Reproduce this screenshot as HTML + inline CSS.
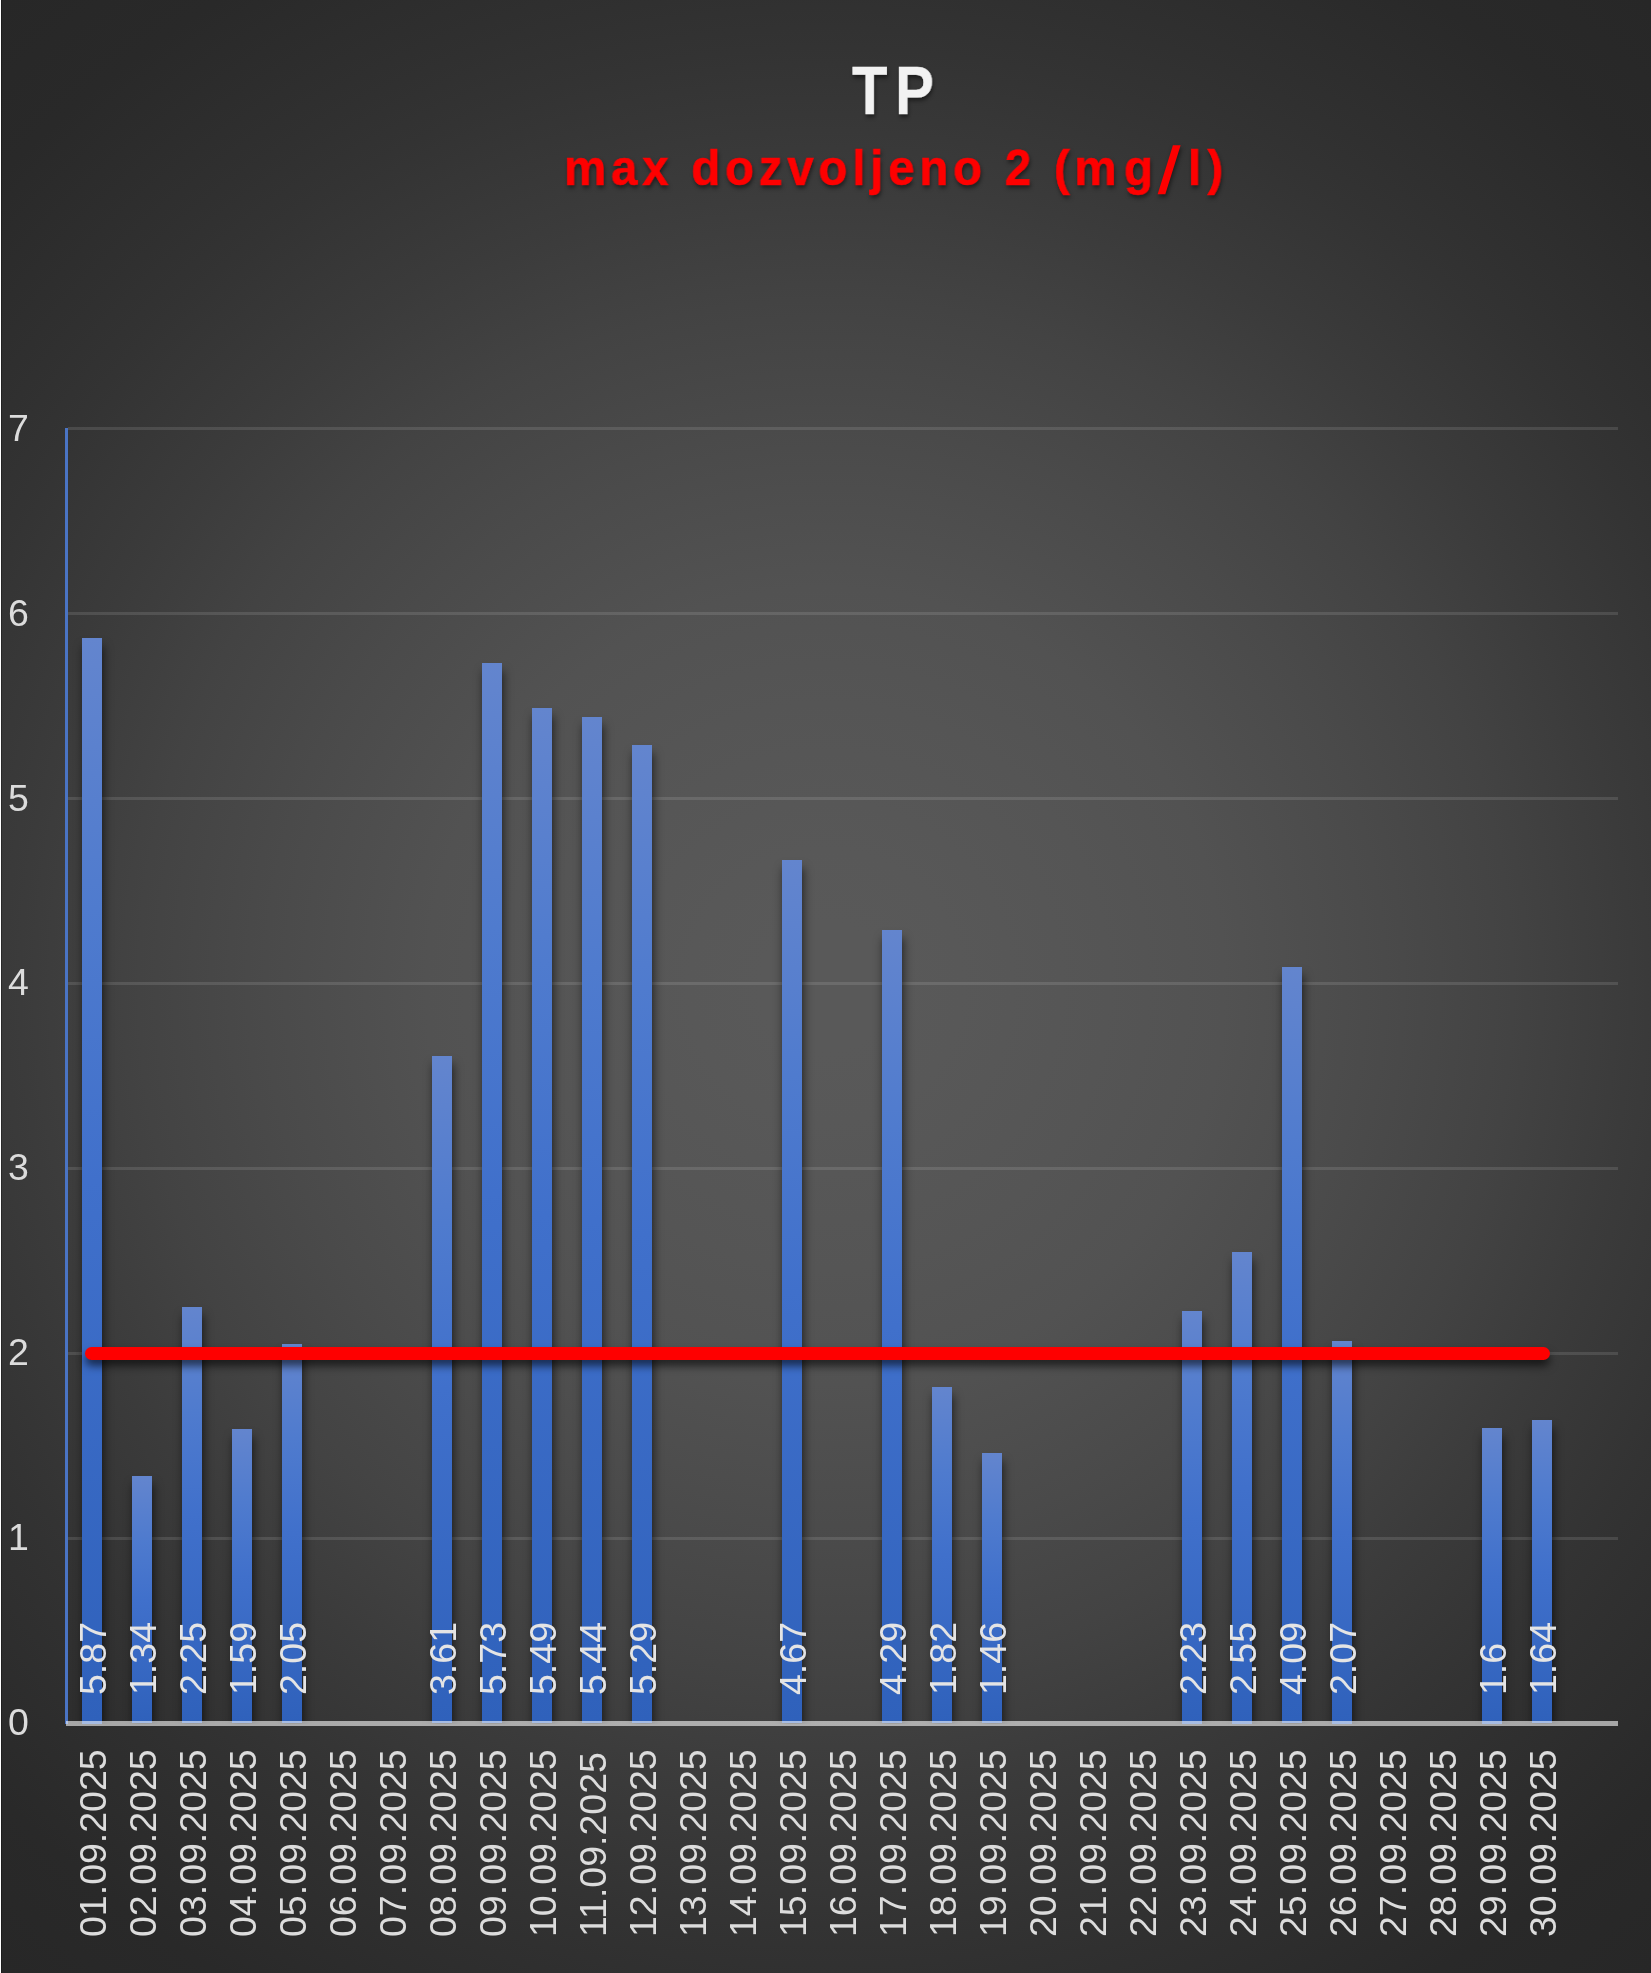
<!DOCTYPE html>
<html lang="hr"><head><meta charset="utf-8"><title>TP</title>
<style>
html,body{margin:0;padding:0;background:#262626}
body{width:1651px;height:1973px;overflow:hidden;position:relative;
 font-family:"Liberation Sans",sans-serif}
#bg{position:absolute;left:0;top:0;width:1651px;height:1973px;
 background:#262626 radial-gradient(circle farthest-corner at 825.5px 986.5px,#595959 0%,#595959 5%,#585858 10.6%,#555555 22%,#525252 31%,#4a4a4a 43.5%,#434343 53.4%,#3b3b3b 62.6%,#333333 73%,#303030 77.7%,#292929 90%,#272727 100%);}
.edge{position:absolute;left:0;top:0;width:1px;height:1973px;background:#fff}
.edge2{position:absolute;left:1px;top:0;width:1px;height:1973px;background:rgba(0,0,0,.28)}
.g{position:absolute;left:68px;width:1549.5px;height:3px;background:rgba(255,255,255,.115)}
.b{position:absolute;width:20px;background:linear-gradient(to bottom,#6385ce 0%,#4f7bce 25%,#4070cb 50%,#2f61bb 100%);
 box-shadow:1.5px 8px 10px rgba(0,0,0,.6)}
.bars{position:absolute;left:0;top:0;width:1651px;height:1723.5px;overflow:hidden}
.vax{position:absolute;left:65px;top:427.5px;width:3px;height:1296px;background:#4a74c4}
.hax{position:absolute;left:66px;top:1721px;width:1551.5px;height:5px;background:rgba(255,255,255,.58)}
.red{position:absolute;left:85px;top:1346.6px;width:1464.5px;height:13.6px;border-radius:7px;background:#fe0000;
 box-shadow:0 6px 9px rgba(0,0,0,.6)}
.t{position:absolute;white-space:nowrap;line-height:1;font-size:37.5px;color:#dcdcdc}
.t,.title{will-change:transform}
.r{transform-origin:0 0;transform:rotate(-90deg)}
.dl{color:#e4e4e4}
.title{position:absolute;white-space:nowrap;line-height:1;font-weight:bold;transform-origin:0 0}
#t1{left:852.4px;top:56px;font-size:68px;color:#f2f2f2;letter-spacing:9px;transform:scaleX(.855);-webkit-text-stroke:.4px #f2f2f2;
 text-shadow:1px 3px 4px rgba(0,0,0,.5)}
.sl{display:inline-block;width:31.8px}
.sp2{display:inline-block;width:2.6px}
.sp{display:inline-block;width:1.5px}
.slash{position:absolute;left:1150px;top:135px;filter:drop-shadow(1px 3px 2px rgba(0,0,0,.5))}
#t2{left:563.5px;top:143px;font-size:50px;color:#fe0000;letter-spacing:5px;transform:scaleX(.95);-webkit-text-stroke:.6px #fe0000;
 text-shadow:1px 3px 4px rgba(0,0,0,.5)}

</style></head><body>
<div id="bg"></div>
<div class="edge"></div><div class="edge2"></div>
<div class="g" style="top:427.0px"></div>
<div class="g" style="top:612.0px"></div>
<div class="g" style="top:797.0px"></div>
<div class="g" style="top:982.0px"></div>
<div class="g" style="top:1167.0px"></div>
<div class="g" style="top:1352.0px"></div>
<div class="g" style="top:1537.0px"></div>
<div class="bars">
<div class="b" style="left:82.0px;top:637.5px;height:1086.0px"></div>
<div class="b" style="left:132.0px;top:1475.6px;height:247.9px"></div>
<div class="b" style="left:182.0px;top:1307.2px;height:416.2px"></div>
<div class="b" style="left:232.0px;top:1429.3px;height:294.2px"></div>
<div class="b" style="left:282.0px;top:1344.2px;height:379.2px"></div>
<div class="b" style="left:432.0px;top:1055.7px;height:667.8px"></div>
<div class="b" style="left:482.0px;top:663.4px;height:1060.1px"></div>
<div class="b" style="left:532.0px;top:707.8px;height:1015.7px"></div>
<div class="b" style="left:582.0px;top:717.1px;height:1006.4px"></div>
<div class="b" style="left:632.0px;top:744.9px;height:978.6px"></div>
<div class="b" style="left:782.0px;top:859.6px;height:863.9px"></div>
<div class="b" style="left:882.0px;top:929.9px;height:793.6px"></div>
<div class="b" style="left:932.0px;top:1386.8px;height:336.7px"></div>
<div class="b" style="left:982.0px;top:1453.4px;height:270.1px"></div>
<div class="b" style="left:1182.0px;top:1311.0px;height:412.5px"></div>
<div class="b" style="left:1232.0px;top:1251.8px;height:471.8px"></div>
<div class="b" style="left:1282.0px;top:966.9px;height:756.6px"></div>
<div class="b" style="left:1332.0px;top:1340.5px;height:383.0px"></div>
<div class="b" style="left:1482.0px;top:1427.5px;height:296.0px"></div>
<div class="b" style="left:1532.0px;top:1420.1px;height:303.4px"></div>
</div>
<div class="vax"></div>
<div class="hax"></div>
<div class="red"></div>
<div class="t" style="left:7.5px;top:409.9px">7</div>
<div class="t" style="left:7.5px;top:594.7px">6</div>
<div class="t" style="left:7.5px;top:779.5px">5</div>
<div class="t" style="left:7.5px;top:964.4px">4</div>
<div class="t" style="left:7.5px;top:1149.2px">3</div>
<div class="t" style="left:7.5px;top:1334.1px">2</div>
<div class="t" style="left:7.5px;top:1518.9px">1</div>
<div class="t" style="left:7.5px;top:1703.8px">0</div>
<div class="t r dl" style="left:75.0px;top:1695.0px">5.87</div>
<div class="t r dl" style="left:125.0px;top:1695.0px">1.34</div>
<div class="t r dl" style="left:175.1px;top:1695.0px">2.25</div>
<div class="t r dl" style="left:225.1px;top:1695.0px">1.59</div>
<div class="t r dl" style="left:275.1px;top:1695.0px">2.05</div>
<div class="t r dl" style="left:425.1px;top:1695.0px">3.61</div>
<div class="t r dl" style="left:475.1px;top:1695.0px">5.73</div>
<div class="t r dl" style="left:525.0px;top:1695.0px">5.49</div>
<div class="t r dl" style="left:575.0px;top:1695.0px">5.44</div>
<div class="t r dl" style="left:625.0px;top:1695.0px">5.29</div>
<div class="t r dl" style="left:775.0px;top:1695.0px">4.67</div>
<div class="t r dl" style="left:875.0px;top:1695.0px">4.29</div>
<div class="t r dl" style="left:925.0px;top:1695.0px">1.82</div>
<div class="t r dl" style="left:975.0px;top:1695.0px">1.46</div>
<div class="t r dl" style="left:1175.0px;top:1695.0px">2.23</div>
<div class="t r dl" style="left:1225.0px;top:1695.0px">2.55</div>
<div class="t r dl" style="left:1275.0px;top:1695.0px">4.09</div>
<div class="t r dl" style="left:1325.0px;top:1695.0px">2.07</div>
<div class="t r dl" style="left:1475.0px;top:1695.0px">1.6</div>
<div class="t r dl" style="left:1525.0px;top:1695.0px">1.64</div>
<div class="t r" style="left:75.0px;top:1936.5px">01.09.2025</div>
<div class="t r" style="left:125.0px;top:1936.5px">02.09.2025</div>
<div class="t r" style="left:175.1px;top:1936.5px">03.09.2025</div>
<div class="t r" style="left:225.1px;top:1936.5px">04.09.2025</div>
<div class="t r" style="left:275.1px;top:1936.5px">05.09.2025</div>
<div class="t r" style="left:325.1px;top:1936.5px">06.09.2025</div>
<div class="t r" style="left:375.1px;top:1936.5px">07.09.2025</div>
<div class="t r" style="left:425.1px;top:1936.5px">08.09.2025</div>
<div class="t r" style="left:475.1px;top:1936.5px">09.09.2025</div>
<div class="t r" style="left:525.0px;top:1936.5px">10.09.2025</div>
<div class="t r" style="left:575.0px;top:1936.5px">11.09.2025</div>
<div class="t r" style="left:625.0px;top:1936.5px">12.09.2025</div>
<div class="t r" style="left:675.0px;top:1936.5px">13.09.2025</div>
<div class="t r" style="left:725.0px;top:1936.5px">14.09.2025</div>
<div class="t r" style="left:775.0px;top:1936.5px">15.09.2025</div>
<div class="t r" style="left:825.0px;top:1936.5px">16.09.2025</div>
<div class="t r" style="left:875.0px;top:1936.5px">17.09.2025</div>
<div class="t r" style="left:925.0px;top:1936.5px">18.09.2025</div>
<div class="t r" style="left:975.0px;top:1936.5px">19.09.2025</div>
<div class="t r" style="left:1025.0px;top:1936.5px">20.09.2025</div>
<div class="t r" style="left:1075.0px;top:1936.5px">21.09.2025</div>
<div class="t r" style="left:1125.0px;top:1936.5px">22.09.2025</div>
<div class="t r" style="left:1175.0px;top:1936.5px">23.09.2025</div>
<div class="t r" style="left:1225.0px;top:1936.5px">24.09.2025</div>
<div class="t r" style="left:1275.0px;top:1936.5px">25.09.2025</div>
<div class="t r" style="left:1325.0px;top:1936.5px">26.09.2025</div>
<div class="t r" style="left:1375.0px;top:1936.5px">27.09.2025</div>
<div class="t r" style="left:1425.0px;top:1936.5px">28.09.2025</div>
<div class="t r" style="left:1475.0px;top:1936.5px">29.09.2025</div>
<div class="t r" style="left:1525.0px;top:1936.5px">30.09.2025</div>
<div class="title" id="t1">TP</div>
<div class="title" id="t2">max dozvoljeno 2 (m<span class="sp2"></span>g<span class="sl"></span>l<span class="sp"></span>)</div>
<svg class="slash" width="40" height="70" viewBox="1150 135 40 70"><polygon points="1157.6,194.3 1165.3,194.3 1180.6,145.3 1172.9,145.3" fill="#fe0000"/></svg>
</body></html>
